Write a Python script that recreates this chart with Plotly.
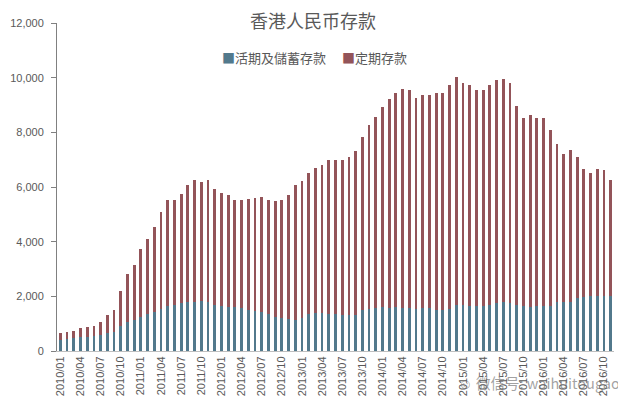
import plotly.graph_objects as go

months = [f"{y}/{m:02d}" for y in range(2010, 2017) for m in range(1, 13)][:83]

total = [650, 695, 740, 840, 875, 910, 1070, 1310, 1490, 2190, 2820, 3160,
         3720, 4080, 4520, 5100, 5510, 5540, 5730, 6090, 6240, 6180, 6270, 5910,
         5770, 5700, 5540, 5540, 5560, 5590, 5650, 5540, 5470, 5540, 5720, 6060,
         6220, 6530, 6680, 6790, 6990, 6990, 6980, 7100, 7300, 7840, 8270, 8560,
         8930, 9220, 9440, 9570, 9550, 9260, 9380, 9380, 9440, 9440, 9740, 10040,
         9810, 9730, 9540, 9560, 9720, 9900, 9950, 9810, 8980, 8540, 8650, 8540,
         8540, 8070, 7560, 7220, 7340, 7100, 6670, 6530, 6670, 6640, 6270]

demand = [420, 440, 460, 500, 520, 540, 600, 650, 700, 900, 1050, 1150,
          1250, 1350, 1420, 1550, 1650, 1680, 1750, 1780, 1800, 1820, 1800, 1700,
          1650, 1620, 1600, 1580, 1500, 1450, 1420, 1350, 1250, 1200, 1180, 1150,
          1200, 1350, 1380, 1380, 1370, 1350, 1320, 1300, 1330, 1500, 1550, 1580,
          1600, 1580, 1600, 1580, 1560, 1540, 1560, 1580, 1500, 1500, 1550, 1680,
          1700, 1650, 1640, 1650, 1700, 1750, 1780, 1760, 1700, 1650, 1620, 1640,
          1650, 1660, 1780, 1800, 1800, 1950, 1980, 2000, 2000, 2000, 2020]

time_dep = [t - d for t, d in zip(total, demand)]

tick_vals = months[::3]
y_ticks = [0, 2000, 4000, 6000, 8000, 10000, 12000]

BLUE = "#52798C"
RED = "#935459"

fig = go.Figure()
fig.add_trace(go.Bar(x=months, y=demand, name="活期及儲蓄存款", marker_color=BLUE,
                     marker_line_width=0))
fig.add_trace(go.Bar(x=months, y=time_dep, name="定期存款", marker_color=RED,
                     marker_line_width=0))

# page body has an 8px margin: figure origin sits at (8, 8) of the window
OFF = 8
W, H = 626 - OFF, 408 - OFF
L, R, T, B = 57.3 - OFF, 12, 22.7 - OFF, 57.3
PW, PH = W - L - R, H - T - B


def px_x(x):
    return (x - OFF - L) / PW


def px_y(y):
    return 1 - (y - OFF - T) / PH


fig.update_layout(
    width=W, height=H,
    barmode="stack", bargap=0.58,
    showlegend=False,
    paper_bgcolor="white", plot_bgcolor="white",
    margin=dict(l=L, r=R, t=T, b=B, pad=0, autoexpand=False),
    font=dict(family="Noto Sans CJK SC, Liberation Sans, sans-serif", color="#595959"),
    xaxis=dict(
        type="category", tickmode="array", tickvals=tick_vals, ticktext=tick_vals,
        tickangle=-90, tickfont=dict(size=11, family="Liberation Sans, Arial", color="#595959"),
        showline=True, linecolor="#BFBFBF", linewidth=1, ticks="",
        showgrid=False, range=[-0.5, 82.5], automargin=False,
    ),
    yaxis=dict(
        range=[0, 12000], tickvals=y_ticks, tickformat=",d",
        tickfont=dict(size=11, family="Liberation Sans, Arial", color="#595959"),
        showline=True, linecolor="#808080", linewidth=1,
        ticks="outside", ticklen=5, tickcolor="#808080", ticklabelstandoff=5,
        showgrid=False, zeroline=False, automargin=False,
    ),
    annotations=[
        dict(text="香港人民币存款", xref="paper", yref="paper",
             x=px_x(313), y=px_y(20),
             xanchor="center", yanchor="middle", showarrow=False,
             font=dict(size=18, color="#595959")),
        dict(text=f"<span style='color:{BLUE}'>■</span>活期及儲蓄存款　 <span style='color:{RED}'>■</span>定期存款",
             xref="paper", yref="paper",
             x=px_x(315), y=px_y(57),
             xanchor="center", yanchor="middle", showarrow=False,
             font=dict(size=13, color="#595959")),
        dict(text="☺ 微信号: waihuitougao", xref="paper", yref="paper",
             x=px_x(622), y=px_y(382),
             xanchor="right", yanchor="middle", showarrow=False,
             font=dict(size=14.5, color="rgba(100,100,100,0.6)")),
    ],
    shapes=[
        dict(type="line", xref="paper", yref="paper",
             x0=px_x(625), x1=px_x(625), y0=px_y(407), y1=px_y(8),
             line=dict(color="#D0D0D0", width=1), layer="below"),
    ],
)

fig.write_html("out.html")
